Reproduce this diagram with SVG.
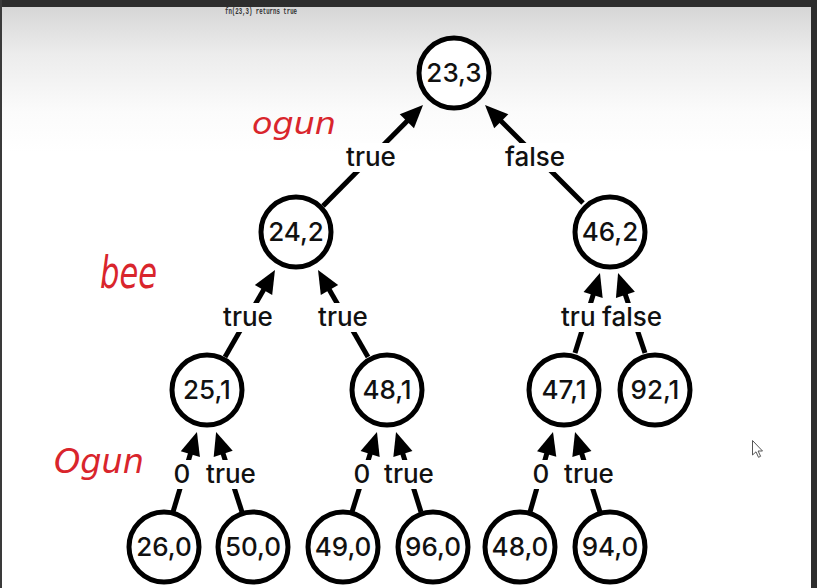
<svg xmlns="http://www.w3.org/2000/svg" width="817" height="588" viewBox="0 0 817 588">
  <defs>
    <linearGradient id="bg" x1="0" y1="0" x2="0" y2="1">
      <stop offset="0" stop-color="#d6d6d6"/>
      <stop offset="0.08" stop-color="#ececec"/>
      <stop offset="0.18" stop-color="#fbfbfb"/>
      <stop offset="0.25" stop-color="#ffffff"/>
    </linearGradient>
    <marker id="arr" viewBox="-12 -11 26 22" markerWidth="26" markerHeight="22" refX="0" refY="0" orient="auto" markerUnits="userSpaceOnUse">
      <path d="M-11,-10 L12,0 L-11,10 Z" fill="#000"/>
    </marker>
    <style>
      .node circle { fill: #fff; stroke: #000; stroke-width: 5; }
      .node text { font-family: Inter, "Liberation Sans", sans-serif; font-size: 26px; font-weight: 500; text-anchor: middle; fill: #111; }
      .edge { stroke: #000; stroke-width: 5; fill: none; marker-end: url(#arr); }
      .lbl text { font-family: Inter, "Liberation Sans", sans-serif; font-size: 26px; font-weight: 500; text-anchor: middle; fill: #111; }
      .lbl rect { fill: #fff; }
      .hand { font-family: "DejaVu Sans", sans-serif; font-weight: 200; font-style: italic; fill: #d9252c; }
    </style>
  </defs>

  <rect x="0" y="0" width="817" height="588" fill="#fff"/>
  <rect x="0" y="7" width="811" height="581" fill="url(#bg)"/>
  <rect x="0" y="0" width="817" height="7" fill="#2d2d2d"/>
  <rect x="811" y="0" width="6" height="588" fill="#2d2d2d"/>
  <rect x="0" y="0" width="2" height="588" fill="#3a3a3a"/>

  <text x="261" y="13.5" font-family="Liberation Mono, monospace" font-size="9" font-weight="bold" text-anchor="middle" fill="#333" textLength="72" lengthAdjust="spacingAndGlyphs">fn(23,3) returns true</text>

  <g id="connectors">
    <line class="edge" x1="323" y1="206" x2="414.6" y2="113.5"/>
    <line class="edge" x1="583" y1="203" x2="493.5" y2="113.5"/>
    <line class="edge" x1="225" y1="357" x2="269" y2="280.4"/>
    <line class="edge" x1="368" y1="357" x2="324" y2="280.4"/>
    <line class="edge" x1="575" y1="353" x2="596.4" y2="284.4"/>
    <line class="edge" x1="645" y1="353" x2="621.9" y2="284.4"/>
    <line class="edge" x1="173" y1="512" x2="193.5" y2="443.5"/>
    <line class="edge" x1="242" y1="512" x2="219.8" y2="443.4"/>
    <line class="edge" x1="352" y1="512" x2="373.4" y2="443.4"/>
    <line class="edge" x1="421" y1="512" x2="399.6" y2="443.4"/>
    <line class="edge" x1="530" y1="512" x2="549.7" y2="443.5"/>
    <line class="edge" x1="600" y1="512" x2="578.6" y2="443.4"/>

    <g class="lbl">
      <rect x="342" y="143" width="58" height="29"/><text x="371" y="166">true</text>
      <rect x="500" y="143" width="70" height="29"/><text x="535" y="166">false</text>
      <rect x="219" y="303" width="58" height="29"/><text x="248" y="326">true</text>
      <rect x="314" y="303" width="58" height="29"/><text x="343" y="326">true</text>
      <rect x="558" y="303" width="41" height="29"/><text x="561" y="326" style="text-anchor:start">tru</text>
      <rect x="599" y="303" width="66" height="29"/><text x="632" y="326">false</text>
      <rect x="172" y="460" width="20" height="29"/><text x="182" y="483">0</text>
      <rect x="202" y="460" width="58" height="29"/><text x="231" y="483">true</text>
      <rect x="352" y="460" width="20" height="29"/><text x="362" y="483">0</text>
      <rect x="380" y="460" width="58" height="29"/><text x="409" y="483">true</text>
      <rect x="531" y="460" width="20" height="29"/><text x="541" y="483">0</text>
      <rect x="560" y="460" width="58" height="29"/><text x="589" y="483">true</text>
    </g>
  </g>

  <g id="n23_3" class="node"><circle cx="454" cy="73" r="35"/><text x="454" y="82">23,3</text></g>
  <g id="n24_2" class="node"><circle cx="296" cy="232" r="35"/><text x="296" y="241">24,2</text></g>
  <g id="n46_2" class="node"><circle cx="610" cy="232" r="35"/><text x="610" y="241">46,2</text></g>
  <g id="n25_1" class="node"><circle cx="207" cy="390" r="35"/><text x="207" y="399">25,1</text></g>
  <g id="n48_1" class="node"><circle cx="387" cy="390" r="35"/><text x="387" y="399">48,1</text></g>
  <g id="n47_1" class="node"><circle cx="564" cy="390" r="35"/><text x="564" y="399">47,1</text></g>
  <g id="n92_1" class="node"><circle cx="655" cy="390" r="35"/><text x="655" y="399">92,1</text></g>
  <g id="n26_0" class="node"><circle cx="164" cy="547" r="35"/><text x="164" y="556">26,0</text></g>
  <g id="n50_0" class="node"><circle cx="253" cy="547" r="35"/><text x="253" y="556">50,0</text></g>
  <g id="n49_0" class="node"><circle cx="343" cy="547" r="35"/><text x="343" y="556">49,0</text></g>
  <g id="n96_0" class="node"><circle cx="433" cy="547" r="35"/><text x="433" y="556">96,0</text></g>
  <g id="n48_0" class="node"><circle cx="520" cy="547" r="35"/><text x="520" y="556">48,0</text></g>
  <g id="n94_0" class="node"><circle cx="610" cy="547" r="35"/><text x="610" y="556">94,0</text></g>

  <g id="annotations">
    <text class="hand" x="252" y="134" font-size="30" textLength="84" lengthAdjust="spacingAndGlyphs">ogun</text>
    <text class="hand" x="100" y="288" font-size="44" textLength="57" lengthAdjust="spacingAndGlyphs">bee</text>
    <text class="hand" x="54" y="473" font-size="34" textLength="90" lengthAdjust="spacingAndGlyphs">Ogun</text>
  </g>

  <path d="M752.5,440.5 L752.5,455 L756,451.8 L758.5,457.3 L760.6,456.3 L758.1,451 L762.5,451 Z" fill="#fff" stroke="#555" stroke-width="1"/>
</svg>
